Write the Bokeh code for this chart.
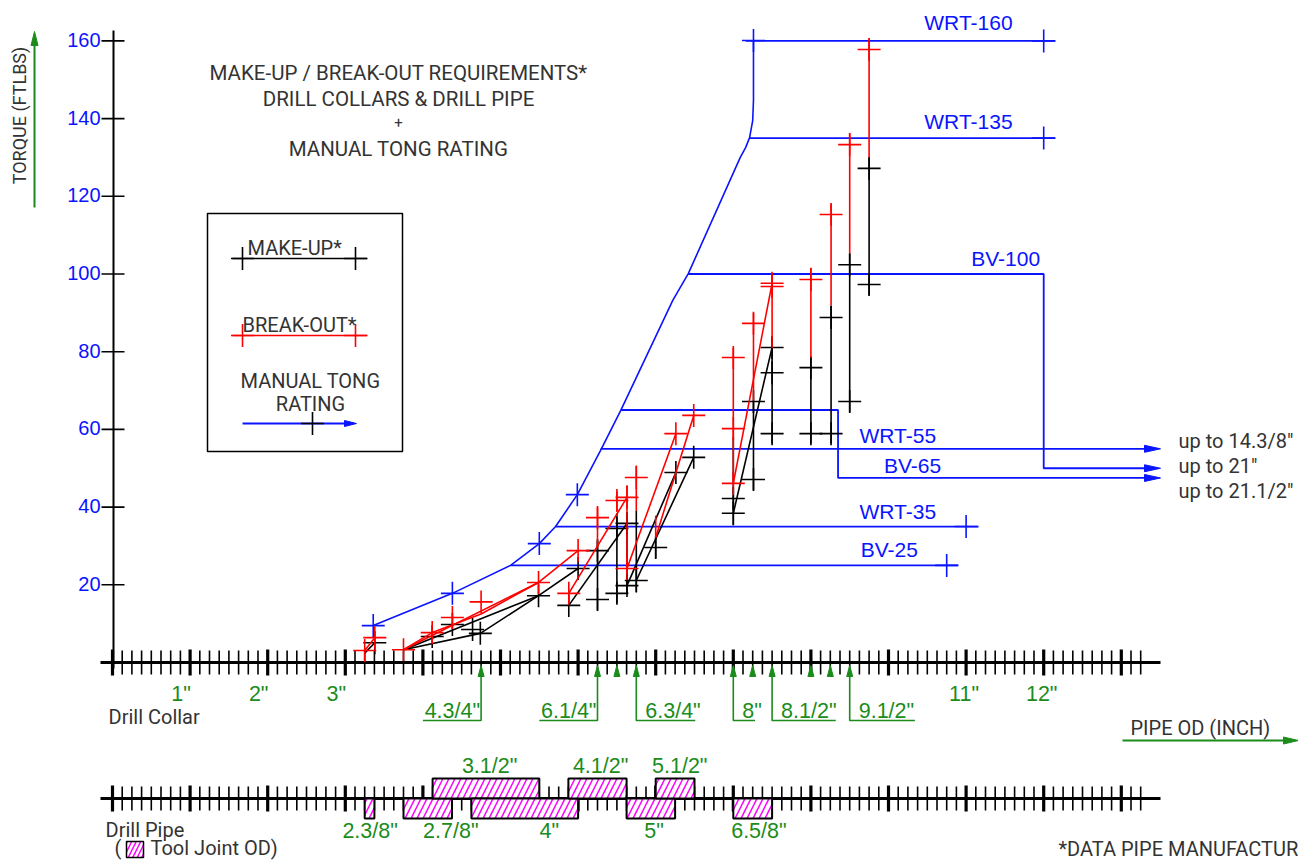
import numpy as np
from bokeh.plotting import figure
from bokeh.models import Label, Range1d
from bokeh.embed import file_html
from bokeh.resources import INLINE

# ------------------------------------------------------------------ data
y_tick_values = [20, 40, 60, 80, 100, 120, 140, 160]
x_label_values = [1, 2, 3, 11, 12]
x_label_texts = ['1"', '2"', '3"', '11"', '12"']

# manual tong rating envelope (blue) : pipe OD (in) / torque (x1000 ft-lbs)
tong_curve_x = [3.36, 4.38, 5.13, 5.50, 5.71, 5.99, 6.29, 6.55, 7.22, 7.42, 8.09, 8.16, 8.21, 8.25, 8.26, 8.26]
tong_curve_t = [9.5, 17.8, 25.0, 30.6, 35.0, 43.2, 54.6, 64.9, 93.2, 100.1, 130.0, 132.6, 135.1, 139.5, 144.7, 160.1]
tong_cross_x = [3.36, 4.38, 5.50, 5.99, 8.26]
tong_cross_t = [9.5, 17.8, 30.6, 43.2, 160.1]

rating_names = ["WRT-160", "WRT-135", "BV-100", "BV-65", "WRT-55", "WRT-35", "BV-25"]
rating_torque = [160, 135, 100, 65, 55, 35, 25]
rating_start = [8.16, 8.21, 7.42, 6.55, 6.29, 5.71, 5.13]
rating_end = [12.15, 12.15, 12.0, 9.35, 13.48, 11.16, 10.9]
rating_cross = [12.0, 12.0, None, None, None, 11.0, 10.75]
rating_drop = [None, None, 50.0, 47.5, None, None, None]
rating_label_x = [11.03, 11.03, 11.51, 10.31, 10.12, 10.12, 10.01]
extend_torque = [55, 50, 47.5]
extend_texts = ['up to 14.3/8"', 'up to 21"', 'up to 21.1/2"']

# break-out (red) and make-up (black) torque points
red_x = [3.25, 3.38, 3.75, 4.12, 4.38, 4.75, 5.49, 5.88, 6.0, 6.25, 6.5, 6.63, 6.63, 6.75,
         7.26, 7.49, 8.0, 8.0, 8.0, 8.26, 8.5, 8.5, 9.0, 9.26, 9.5, 9.75]
red_t = [3.1, 6.4, 3.3, 7.7, 11.6, 15.6, 20.6, 17.8, 28.8, 37.3, 41.7, 42.5, 24.2, 47.6,
         58.9, 63.6, 78.5, 60.2, 46.1, 87.3, 97.6, 96.8, 98.6, 115.3, 133.3, 157.8]
black_x = [3.38, 4.12, 4.38, 4.64, 4.74, 5.49, 5.88, 6.0, 6.25, 6.25, 6.5, 6.5, 6.63, 6.63,
           6.75, 7.0, 7.26, 7.49, 8.0, 8.0, 8.26, 8.26, 8.5, 8.5, 8.5, 9.0, 9.0, 9.26, 9.26,
           9.5, 9.5, 9.75, 9.75]
black_t = [5.1, 6.7, 9.8, 8.5, 7.5, 17.2, 14.7, 24.2, 28.8, 16.2, 34.5, 17.8, 35.8, 19.8,
           21.1, 29.6, 48.9, 52.8, 42.2, 38.4, 67.2, 47.1, 81.1, 74.6, 58.9, 75.9, 58.9, 88.8,
           58.9, 102.4, 67.2, 127.2, 97.3]

# vertical ranges (x, low, high)
red_range_x = [6.25, 6.5, 6.63, 6.75, 7.0, 8.0, 8.26, 8.5, 9.0, 9.26, 9.5, 9.75]
red_range_lo = [29.6, 39.0, 22.9, 39.0, 32.2, 46.1, 67.4, 81.0, 78.5, 91.9, 105.3, 130.0]
red_range_hi = [39.9, 44.0, 45.6, 50.7, 37.8, 81.0, 90.0, 100.0, 101.6, 118.0, 136.3, 160.6]
black_range_x = [6.25, 6.5, 6.63, 6.75, 7.0, 8.0, 8.26, 8.5, 9.0, 9.26, 9.5, 9.75]
black_range_lo = [13.4, 15.2, 17.8, 18.0, 26.8, 35.3, 44.3, 56.4, 56.4, 56.4, 64.4, 94.5]
black_range_hi = [31.4, 38.4, 38.4, 39.0, 32.2, 58.0, 67.4, 83.7, 78.5, 91.9, 105.3, 130.0]

# connecting lines
red_lines = [
    ([3.25, 3.38], [3.1, 6.4]),
    ([3.75, 5.49, 6.0], [3.3, 20.6, 28.8]),
    ([3.75, 4.12, 4.75, 5.49], [3.3, 7.7, 12.5, 20.6]),
    ([5.88, 6.63], [17.8, 42.5]),
    ([6.63, 7.26], [24.2, 58.9]),
    ([7.0, 7.49], [32.2, 63.6]),
    ([8.0, 8.5], [46.1, 97.6]),
]
black_lines = [
    ([3.25, 3.38], [2.4, 5.1]),
    ([3.75, 5.49, 6.0], [3.3, 17.2, 24.2]),
    ([3.75, 4.74, 5.49], [3.3, 7.5, 17.2]),
    ([5.88, 6.63], [14.7, 35.8]),
    ([6.63, 7.26], [19.8, 48.9]),
    ([6.75, 7.49], [21.1, 52.8]),
    ([8.0, 8.5], [38.4, 81.1]),
]

# drill collar sizes marked under the axis
collar_sizes = [4.75, 6.25, 6.75, 8.0, 8.5, 9.5]
collar_texts = ['4.3/4"', '6.1/4"', '6.3/4"', '8"', '8.1/2"', '9.1/2"']
collar_side = [-1, -1, 1, 1, 1, 1]
collar_bracket = [0.75, 0.75, 0.76, 0.28, 0.82, 0.84]
collar_minor = [6.5, 8.25, 9.0, 9.25]

# drill pipe tool-joint OD ranges
pipe_texts = ['2.3/8"', '2.7/8"', '3.1/2"', '4"', '4.1/2"', '5"', '5.1/2"', '6.5/8"']
tj_min = [3.25, 3.75, 4.125, 4.625, 5.875, 6.625, 7.0, 8.0]
tj_max = [3.375, 4.375, 5.5, 6.0, 6.625, 7.25, 7.5, 8.5]
tj_above = [False, False, True, False, True, False, True, False]
pipe_label_x = [3.32, 4.36, 4.86, 5.63, 6.29, 6.98, 7.31, 8.33]

# ------------------------------------------------------------------ geometry
W, H = 1298, 860
PX_IN = 77.6
PX_T = 3.885
X0P, Y0P = 112.0, 662.0
xmin = -X0P / PX_IN
xmax = xmin + W / PX_IN
ymax = Y0P / PX_T
ymin = ymax - H / PX_T


def X(px):
    return (px - X0P) / PX_IN


def Y(py):
    return (Y0P - py) / PX_T


def dx(n):
    return n / PX_IN


def dy(n):
    return n / PX_T


BLUE = "#0a14ff"
RED = "#ff0000"
GREEN = "#1b8c1b"
GRAY = "#333333"
MAG = "#ff00ff"
GFS = 20      # gray text size
GRS = 21.5    # green text size

p = figure(width=W, height=H, x_range=Range1d(xmin, xmax), y_range=Range1d(ymin, ymax),
           output_backend="svg", toolbar_location=None, min_border=0)
p.axis.visible = False
p.grid.visible = False
p.outline_line_color = None
p.background_fill_color = "white"


def label(text, x, y, size, color, font="Roboto", align="center", baseline="middle", angle=0.0):
    p.add_layout(Label(x=x, y=y, text=text, text_font=font, text_font_size=f"{size}px",
                       text_color=color, text_align=align, text_baseline=baseline, angle=angle))


def arrowhead(tx, ty, direction, length, half, color):
    if direction == "right":
        xs = [tx, tx - dx(length), tx - dx(length)]
        ys = [ty, ty + dy(half), ty - dy(half)]
    else:
        xs = [tx, tx - dx(half), tx + dx(half)]
        ys = [ty, ty - dy(length), ty - dy(length)]
    p.patch(xs, ys, fill_color=color, line_color=color, line_width=1)


# ------------------------------------------------------------------ axes
def tick_axis(y_axis):
    p.segment(x0=[X(100)], y0=[y_axis], x1=[X(1160)], y1=[y_axis], line_color="black", line_width=3)
    ticks = np.arange(0, 13.25 + 1e-9, 0.125)
    minor = [t for t in ticks if abs(t - round(t)) > 1e-6]
    major = [t for t in ticks if abs(t - round(t)) <= 1e-6]
    p.segment(x0=minor, y0=[y_axis - dy(12)] * len(minor), x1=minor, y1=[y_axis + dy(12)] * len(minor),
              line_color="black", line_width=1.6)
    p.segment(x0=major, y0=[y_axis - dy(13)] * len(major), x1=major, y1=[y_axis + dy(13)] * len(major),
              line_color="black", line_width=3.2)


tick_axis(0.0)
tick_axis(Y(798))

# y axis
p.segment(x0=[X(113)], y0=[Y(30)], x1=[X(113)], y1=[Y(668)], line_color="black", line_width=2)
p.segment(x0=[X(101)] * len(y_tick_values), y0=y_tick_values, x1=[X(124)] * len(y_tick_values),
          y1=y_tick_values, line_color="black", line_width=1.6)
for v in y_tick_values:
    label(str(v), X(100), v + dy(1), 20, BLUE, font="Liberation Sans", align="right", baseline="alphabetic")

label("TORQUE (FTLBS)", X(19), Y(115), 18, GRAY, angle=np.pi / 2)
p.segment(x0=[X(34)], y0=[Y(207)], x1=[X(34)], y1=[Y(44)], line_color=GREEN, line_width=2)
arrowhead(X(34), Y(31), "up", 14, 3.5, GREEN)

for v, t in zip(x_label_values, x_label_texts):
    off = -9 if v < 10 else -2
    label(t, v + dx(off), Y(693), GRS, GREEN, font="Liberation Sans")
label("Drill Collar", X(108), Y(716), GFS, GRAY, align="left")

# pipe OD axis title
label("PIPE OD (INCH)", X(1130), Y(727), GFS, GRAY, align="left")
p.segment(x0=[X(1122)], y0=[Y(740)], x1=[X(1284)], y1=[Y(740)], line_color=GREEN, line_width=2)
arrowhead(X(1298), Y(740), "right", 15, 3.5, GREEN)

# ------------------------------------------------------------------ tong rating (blue)
p.line(tong_curve_x, tong_curve_t, line_color=BLUE, line_width=1.6)
p.scatter(tong_cross_x, tong_cross_t, marker="cross", size=23, line_color=BLUE, line_width=1.6)

label_gap = [18, 17, 16, 12, 13, 15, 16]
for i, name in enumerate(rating_names):
    t = rating_torque[i]
    end = rating_end[i]
    t_label = t
    if rating_drop[i] is not None:
        td = rating_drop[i]
        p.line([rating_start[i], end, end, X(1146)], [t, t, td, td], line_color=BLUE, line_width=1.8)
        arrowhead(X(1160), td, "right", 16, 3.5, BLUE)
        if name == "BV-65":
            t_label = td
    elif name == "WRT-55":
        p.line([rating_start[i], X(1146)], [t, t], line_color=BLUE, line_width=1.8)
        arrowhead(X(1160), t, "right", 16, 3.5, BLUE)
    else:
        p.line([rating_start[i], end], [t, t], line_color=BLUE, line_width=1.8)
    if rating_cross[i] is not None:
        p.scatter([rating_cross[i]], [t], marker="cross", size=23, line_color=BLUE, line_width=1.6)
    label(name, rating_label_x[i], t_label + dy(label_gap[i]), 21, BLUE, font="Liberation Sans")

for t, txt, py in zip(extend_torque, extend_texts, [440, 465, 490]):
    label(txt, X(1178), Y(py), GFS, GRAY, align="left")

# ------------------------------------------------------------------ make-up / break-out
for xs, ts in black_lines:
    p.line(xs, ts, line_color="black", line_width=1.6)
p.segment(x0=black_range_x, y0=black_range_lo, x1=black_range_x, y1=black_range_hi,
          line_color="black", line_width=1.6)
p.scatter(black_x, black_t, marker="cross", size=23, line_color="black", line_width=1.6)
for xs, ts in red_lines:
    p.line(xs, ts, line_color=RED, line_width=1.6)
p.segment(x0=red_range_x, y0=red_range_lo, x1=red_range_x, y1=red_range_hi,
          line_color=RED, line_width=1.6)
p.scatter(red_x, red_t, marker="cross", size=23, line_color=RED, line_width=1.6)

# ------------------------------------------------------------------ drill collar markers
y_under = Y(720)
for s, txt, side, br in zip(collar_sizes, collar_texts, collar_side, collar_bracket):
    p.line([s + side * br, s, s], [y_under, y_under, -dy(12)], line_color=GREEN, line_width=1.6)
    arrowhead(s, -dy(3), "up", 11, 3, GREEN)
    if side < 0:
        label(txt, s - dx(1), Y(710), GRS, GREEN, font="Liberation Sans", align="right")
    else:
        label(txt, s + dx(9), Y(710), GRS, GREEN, font="Liberation Sans", align="left")
for s in collar_minor:
    arrowhead(s, -dy(3), "up", 11, 3, GREEN)

# ------------------------------------------------------------------ drill pipe
y_pipe = Y(798)
tops = [Y(778) if a else y_pipe for a in tj_above]
bots = [y_pipe if a else Y(818) for a in tj_above]
p.quad(left=tj_min, right=tj_max, top=tops, bottom=bots, fill_color="white",
       hatch_pattern="/", hatch_color=MAG, hatch_scale=12, hatch_weight=1.5,
       line_color="black", line_width=2)
for txt, lx, a in zip(pipe_texts, pipe_label_x, tj_above):
    label(txt, lx, Y(765) if a else Y(830), GRS, GREEN, font="Liberation Sans")

label("Drill Pipe", X(105), Y(829), GFS, GRAY, align="left")
label("(", X(114), Y(847), GFS, GRAY, align="left")
p.quad(left=[X(126)], right=[X(143)], top=[Y(841)], bottom=[Y(857)], fill_color="white",
       hatch_pattern="/", hatch_color=MAG, hatch_scale=9, hatch_weight=1.5,
       line_color="black", line_width=1.5)
label("Tool Joint OD)", X(150), Y(847), GFS, GRAY, align="left")
label("*DATA PIPE MANUFACTURER", X(1058), Y(848), GFS, GRAY, align="left")

# ------------------------------------------------------------------ titles
label("MAKE-UP / BREAK-OUT REQUIREMENTS*", X(398), Y(72), 20.5, GRAY)
label("DRILL COLLARS & DRILL PIPE", X(398), Y(98), 20.5, GRAY)
label("+", X(398), Y(122), 15, GRAY)
label("MANUAL TONG RATING", X(398), Y(148), 20.5, GRAY)

# ------------------------------------------------------------------ legend box
p.quad(left=[X(207)], right=[X(402)], top=[Y(213)], bottom=[Y(451)], fill_color=None,
       line_color="black", line_width=1.5)
p.line([X(232), X(367)], [Y(258), Y(258)], line_color="black", line_width=1.6)
p.scatter([X(242), X(355)], [Y(258), Y(258)], marker="cross", size=23, line_color="black", line_width=1.6)
label("MAKE-UP*", X(247), Y(247), GFS, GRAY, align="left")
p.line([X(232), X(367)], [Y(335), Y(335)], line_color=RED, line_width=1.6)
p.scatter([X(242), X(355)], [Y(335), Y(335)], marker="cross", size=23, line_color=RED, line_width=1.6)
label("BREAK-OUT*", X(242), Y(324), GFS, GRAY, align="left")
label("MANUAL TONG", X(310), Y(380), GFS, GRAY)
label("RATING", X(310), Y(403), GFS, GRAY)
p.line([X(242), X(345)], [Y(423), Y(423)], line_color=BLUE, line_width=1.8)
arrowhead(X(356), Y(423), "right", 12, 3, BLUE)
p.scatter([X(312)], [Y(423)], marker="cross", size=23, line_color="black", line_width=1.6)

open("out.html", "w").write(file_html(p, INLINE))
